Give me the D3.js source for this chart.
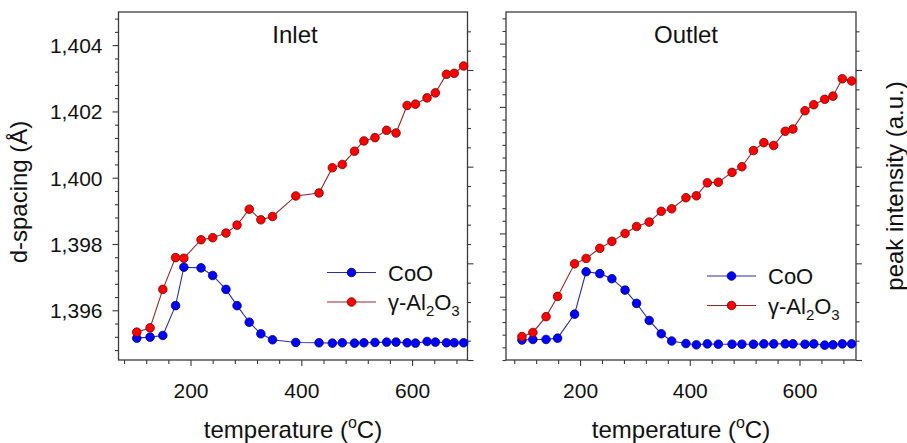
<!DOCTYPE html>
<html>
<head>
<meta charset="utf-8">
<script src="https://cdn.jsdelivr.net/npm/d3@7"></script>
<style>
  html, body { margin: 0; padding: 0; background: #fff; }
  svg { display: block; font-family: "Liberation Sans", Arial, sans-serif; }
</style>
</head>
<body>
<svg id="chart" width="907" height="443"></svg>
<script>
// ---------------- DATA ----------------
const panelTitles = ["Inlet", "Outlet"];
const seriesNames = ["CoO", "γ-Al2O3"];

const tempInlet = [103, 127, 150, 173, 188, 219, 240, 264, 284, 306, 327, 348, 390, 432,
  456, 474, 496, 513, 533, 554, 571, 591, 606, 627, 642, 662, 676, 693];
const cooInlet = [1.39516, 1.39519, 1.39524, 1.39614, 1.39730, 1.39728, 1.39705, 1.39663,
  1.39614, 1.39564, 1.39529, 1.39511, 1.39503, 1.39502, 1.39501, 1.39502, 1.39501, 1.39502,
  1.39503, 1.39504, 1.39504, 1.39502, 1.39501, 1.39506, 1.39504, 1.39502, 1.39502, 1.39502];
const alInlet = [1.39534, 1.39547, 1.39663, 1.39759, 1.39757, 1.39813, 1.39819, 1.39833,
  1.39857, 1.39905, 1.39873, 1.39883, 1.39945, 1.39954, 1.40030, 1.40040, 1.40080, 1.40111,
  1.40121, 1.40143, 1.40135, 1.40218, 1.40222, 1.40241, 1.40256, 1.40312, 1.40315, 1.40337];

const tempOutlet = [94, 114, 138, 159, 190, 211, 236, 258, 282, 303, 326, 348, 367, 393, 412,
  432, 452, 477, 495, 516, 535, 553, 574, 588, 610, 626, 646, 661, 678, 695];
const cooOutlet = [1.39463, 1.39465, 1.39465, 1.39469, 1.39545, 1.39679, 1.39673, 1.39657,
  1.39621, 1.39579, 1.39525, 1.39483, 1.39460, 1.39452, 1.39448, 1.39451, 1.39450, 1.39450,
  1.39450, 1.39450, 1.39451, 1.39451, 1.39451, 1.39451, 1.39450, 1.39451, 1.39447, 1.39448,
  1.39451, 1.39451];
const alOutlet = [1.39474, 1.39487, 1.39537, 1.39601, 1.39704, 1.39721, 1.39753, 1.39775,
  1.39800, 1.39822, 1.39836, 1.39870, 1.39878, 1.39913, 1.39919, 1.39960, 1.39962, 1.39993,
  1.40011, 1.40062, 1.40087, 1.40078, 1.40123, 1.40130, 1.40188, 1.40207, 1.40224, 1.40234,
  1.40289, 1.40282];

const xTickMajor = [200, 400, 600];
const yTickLabels = ["1,396", "1,398", "1,400", "1,402", "1,404"];
const yTickValues = yTickLabels.map(s => +s.replace(",", "."));
const rightTickMajor = [0, 1, 2, 3];

// ---------------- LAYOUT ----------------
const svg = d3.select("#chart");
const yTop = 12, yBottom = 360;
const COL = {
  cooLine: "#2e2e9e", cooFill: "#0000ff", cooStroke: "#00007a",
  alLine: "#8e2a2a", alFill: "#ff0000", alStroke: "#7a0000",
  frame: "#3a3a3a", text: "#111"
};

const panels = [
  { left: 118.5, right: 467.5, xDom: [70, 700], yDom: [1.3945, 1.405], labels: true,
    title: panelTitles[0], titleX: 295, temps: tempInlet, coo: cooInlet, al: alInlet,
    legX: 327, legY: 272.5 },
  { left: 506, right: 856, xDom: [65, 703], yDom: [1.394, 1.405], labels: false,
    title: panelTitles[1], titleX: 686, temps: tempOutlet, coo: cooOutlet, al: alOutlet,
    legX: 707, legY: 276 }
];

panels.forEach(p => {
  const x = d3.scaleLinear().domain(p.xDom).range([p.left, p.right]);
  const y = d3.scaleLinear().domain(p.yDom).range([yBottom, yTop]);
  const yR = d3.scaleLinear().domain([0, 3.6]).range([yBottom, yTop]);
  const g = svg.append("g");

  // left axis
  const yMinorVals = d3.range(-10, 30).map(k => 1.396 + k * 0.0004)
    .filter(v => v >= p.yDom[0] && v <= p.yDom[1] && !yTickValues.some(t => Math.abs(t - v) < 1e-7));
  const axL = d3.axisLeft(y).tickValues(yTickValues).tickSize(6).tickPadding(10)
    .tickFormat((d, i) => p.labels ? yTickLabels[i] : "");
  const gL = g.append("g").attr("transform", `translate(${p.left},0)`).call(axL);
  g.append("g").attr("transform", `translate(${p.left},0)`)
    .call(d3.axisLeft(y).tickValues(yMinorVals).tickSize(3.5).tickFormat(""));

  // right axis (peak intensity, unlabeled)
  const rMinor = d3.range(1, 18).map(k => k * 0.2).filter(v => Math.abs(v - Math.round(v)) > 1e-6);
  g.append("g").attr("transform", `translate(${p.right},0)`)
    .call(d3.axisRight(yR).tickValues(rightTickMajor).tickSize(6).tickFormat(""));
  g.append("g").attr("transform", `translate(${p.right},0)`)
    .call(d3.axisRight(yR).tickValues(rMinor).tickSize(3.5).tickFormat(""));

  // bottom axis
  const xMinor = d3.range(80, 701, 40).filter(v => v >= p.xDom[0] && v <= p.xDom[1] && !xTickMajor.includes(v));
  g.append("g").attr("transform", `translate(0,${yBottom})`)
    .call(d3.axisBottom(x).tickValues(xTickMajor).tickSize(6).tickPadding(17).tickFormat(d3.format("d")));
  g.append("g").attr("transform", `translate(0,${yBottom})`)
    .call(d3.axisBottom(x).tickValues(xMinor).tickSize(4).tickFormat(""));

  g.selectAll(".domain").remove();
  g.selectAll(".tick line").attr("stroke", COL.frame).attr("stroke-width", 1.1);
  g.selectAll(".tick text").attr("font-size", 21).attr("fill", COL.text)
    .attr("font-family", '"Liberation Sans", Arial, sans-serif');
  gL.selectAll(".tick text").attr("dy", "0.36em");

  // frame
  g.append("rect").attr("x", p.left).attr("y", yTop)
    .attr("width", p.right - p.left).attr("height", yBottom - yTop)
    .attr("fill", "none").attr("stroke", COL.frame).attr("stroke-width", 1.3);

  // title
  g.append("text").attr("x", p.titleX).attr("y", 43).attr("text-anchor", "middle")
    .attr("font-size", 24).attr("fill", COL.text).text(p.title);

  // series
  const line = d3.line().x(d => x(d[0])).y(d => y(d[1]));
  const drawSeries = (vals, lc, fc, sc) => {
    const pts = p.temps.map((t, i) => [t, vals[i]]);
    g.append("path").datum(pts).attr("d", line).attr("fill", "none")
      .attr("stroke", lc).attr("stroke-width", 1.1);
    g.selectAll(null).data(pts).enter().append("circle")
      .attr("cx", d => x(d[0])).attr("cy", d => y(d[1])).attr("r", 4.3)
      .attr("fill", fc).attr("stroke", sc).attr("stroke-width", 0.8);
  };
  drawSeries(p.coo, COL.cooLine, COL.cooFill, COL.cooStroke);
  drawSeries(p.al, COL.alLine, COL.alFill, COL.alStroke);

  // legend
  const leg = [
    { lc: COL.cooLine, fc: COL.cooFill, sc: COL.cooStroke, dy: 0 },
    { lc: COL.alLine, fc: COL.alFill, sc: COL.alStroke, dy: 29.5 }
  ];
  leg.forEach((L, i) => {
    const ly = p.legY + L.dy;
    g.append("line").attr("x1", p.legX).attr("x2", p.legX + 49).attr("y1", ly).attr("y2", ly)
      .attr("stroke", L.lc).attr("stroke-width", 1.1);
    g.append("circle").attr("cx", p.legX + 24.5).attr("cy", ly).attr("r", 4.3)
      .attr("fill", L.fc).attr("stroke", L.sc).attr("stroke-width", 0.8);
    const t = g.append("text").attr("x", p.legX + 61).attr("y", ly + 8)
      .attr("font-size", 22).attr("fill", COL.text);
    if (i === 0) {
      t.text(seriesNames[0]);
    } else {
      t.append("tspan").text("γ-Al");
      t.append("tspan").attr("font-size", 15).attr("dy", 6).text("2");
      t.append("tspan").attr("dy", -6).text("O");
      t.append("tspan").attr("font-size", 15).attr("dy", 6).text("3");
    }
  });

  // x-axis title
  const xt = g.append("text").attr("x", (p.left + p.right) / 2).attr("y", 438)
    .attr("text-anchor", "middle").attr("font-size", 24).attr("fill", COL.text);
  xt.append("tspan").text("temperature (");
  xt.append("tspan").attr("font-size", 16).attr("dy", -10).text("o");
  xt.append("tspan").attr("dy", 10).text("C)");
});

// y-axis titles
svg.append("text").attr("transform", "translate(27,192) rotate(-90)")
  .attr("text-anchor", "middle").attr("font-size", 24).attr("fill", COL.text)
  .text("d-spacing (Å)");
svg.append("text").attr("transform", "translate(903,186) rotate(-90)")
  .attr("text-anchor", "middle").attr("font-size", 24).attr("fill", COL.text)
  .text("peak intensity (a.u.)");
</script>
</body>
</html>
